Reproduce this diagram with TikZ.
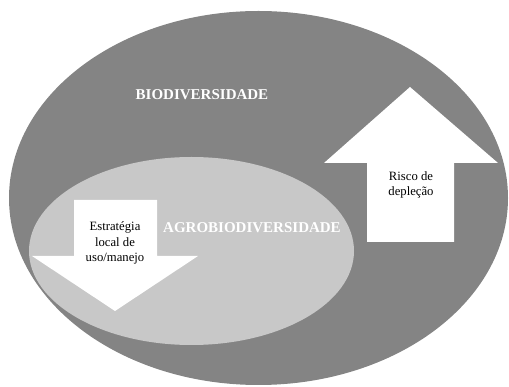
\documentclass[tikz,border=0pt]{standalone}
\usepackage{fontspec}
\setmainfont{Liberation Serif}
\definecolor{cinzaescuro}{RGB}{132,132,132}
\definecolor{cinzaclaro}{RGB}{200,200,200}
\begin{document}
\begin{tikzpicture}[x=1pt, y=-1pt, titulo/.style={text=white, font=\bfseries\fontsize{15}{17}\selectfont}, legenda/.style={align=center, font=\fontsize{12.7}{15.5}\selectfont}, seta/.style={fill=white}]
	\useasboundingbox (0,0) rectangle (509,387);
	\fill[cinzaescuro] (258.5,198) ellipse [x radius=249.5pt, y radius=187pt];
	\fill[cinzaclaro] (191.5,251) ellipse [x radius=162.5pt, y radius=94pt];
	% setas
	\fill[seta] (74,200) -- (157,200) -- (157,256) -- (198,256) -- (115,311) -- (32,256) -- (74,256) -- cycle;
	\fill[seta] (367,242) -- (367,163) -- (324,163) -- (410,87) -- (498,163) -- (454,163) -- (454,242) -- cycle;
	\node[titulo] (B) at (202,95) {BIODIVERSIDADE};
	\node[titulo] (A) at (252,228) {AGROBIODIVERSIDADE};
	\node[legenda] (E) at (115,243) {Estratégia\\local de\\uso/manejo};
	\node[legenda] (R) at (411,185) {Risco de\\depleção};
\end{tikzpicture}
\end{document}
